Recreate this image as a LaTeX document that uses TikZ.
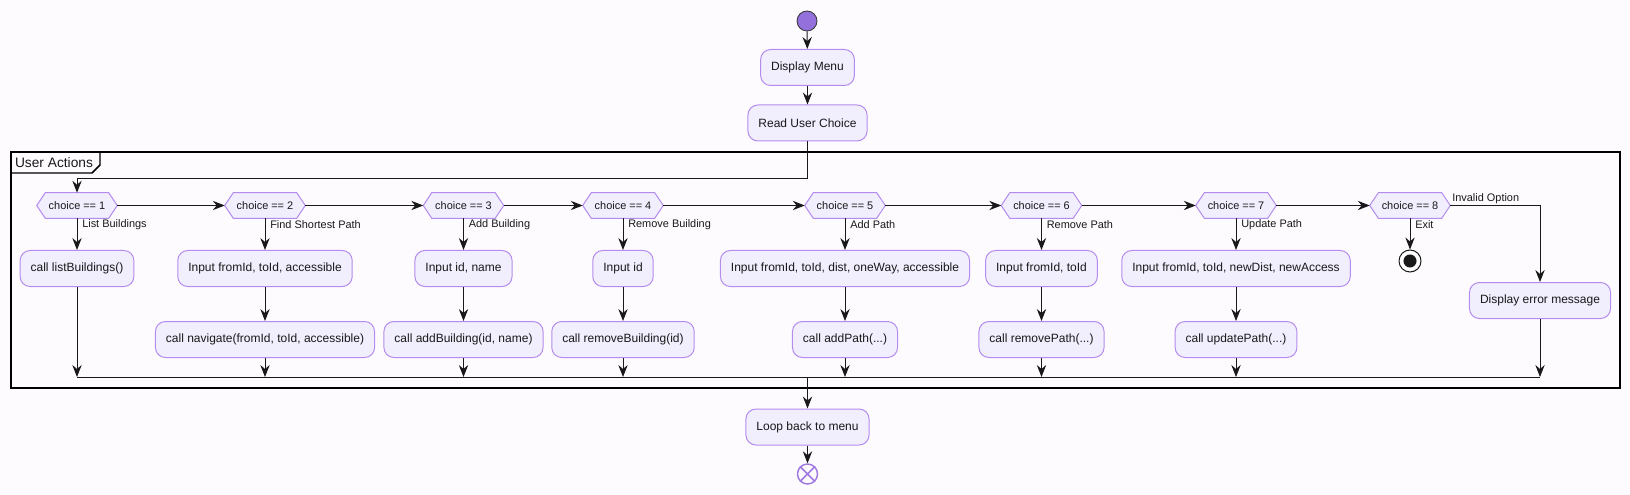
\documentclass[tikz,border=0pt]{standalone}
\usepackage{fontspec}
\setmainfont{Liberation Sans}
\usetikzlibrary{arrows.meta,calc}
\definecolor{bgc}{RGB}{254,251,254}
\definecolor{boxfill}{RGB}{241,238,253}
\definecolor{boxline}{RGB}{180,140,238}
\definecolor{startc}{RGB}{147,112,219}
\definecolor{endc}{RGB}{160,122,224}
\definecolor{txt}{RGB}{25,25,25}
\pgfdeclarelayer{bg}
\pgfdeclarelayer{hex}
\pgfsetlayers{bg,hex,main}
\begin{document}
\begin{tikzpicture}[x=0.75pt,y=-0.75pt,
  >={Stealth[length=9pt,width=7pt,inset=3pt]},
  act/.style={draw=boxline, fill=boxfill, line width=0.75pt, rounded corners=7.5pt,
    minimum height=27pt, inner xsep=7.9pt, inner ysep=0pt,
    font=\fontsize{9}{11}\selectfont, text=txt},
  dec/.style={minimum width=60pt, minimum height=18.75pt, inner sep=0pt,
    font=\fontsize{8.2}{10}\selectfont, text=txt},
  hexline/.style={draw=boxline, fill=boxfill, line width=0.75pt},
  lbl/.style={font=\fontsize{8.2}{10}\selectfont, text=txt, inner sep=0pt, anchor=west},
  flow/.style={->, draw=txt, line width=0.7pt},
  plain/.style={draw=txt, line width=0.7pt},
  startdot/.style={circle, fill=startc, draw=black!80, line width=0.6pt, minimum size=15pt, inner sep=0pt},
  endx/.style={circle, fill=bgc, draw=endc, line width=1.1pt, minimum size=15pt, inner sep=0pt},
  finaldot/.style={circle, fill=white, draw=txt, line width=0.75pt, minimum size=16.5pt, inner sep=0pt}]

\begin{pgfonlayer}{bg}
\fill[bgc] (0,0) rectangle (1630,495);
\end{pgfonlayer}
\useasboundingbox (0,0) rectangle (1630,495);

% frame
\draw[line width=1.1pt, draw=black] (11,152) rectangle (1620,388);
\draw[line width=1.1pt, draw=black] (11,173) -- (92,173) -- (100,165) -- (100,152);
\node[font=\fontsize{10.3}{12}\selectfont, text=txt, inner sep=0pt] (ua) at (54,163) {User Actions};

% main column
\node[startdot] (start) at (807,21) {};
\node[act] (menu) at (807.5,67.5) {Display Menu};
\node[act] (read) at (807.5,123) {Read User Choice};
\coordinate (split) at (807.5,178);
\coordinate (mrg) at (807.5,377);
\node[act] (loop) at (807.5,427) {Loop back to menu};
\node[endx] (endn) at (807.5,474) {};
\draw[draw=endc, line width=1.1pt] (endn.north west) -- (endn.south east) (endn.north east) -- (endn.south west);

% decisions
\foreach \i/\x in {1/77,2/265,3/463.5,4/623,5/845,6/1041.5,7/1236,8/1410}
  \node[dec] (d\i) at (\x,205.5) {choice == \i};
\begin{pgfonlayer}{hex}
\foreach \i in {1,...,8}
  \draw[hexline] (d\i.west) -- ([xshift=6.4pt]d\i.north west) -- ([xshift=-6.4pt]d\i.north east)
    -- (d\i.east) -- ([xshift=-6.4pt]d\i.south east) -- ([xshift=6.4pt]d\i.south west) -- cycle;
\end{pgfonlayer}

% first row
\node[act] (a1) at (77,268.5) {call listBuildings()};
\node[act] (a2) at (265,268.5) {Input fromId, toId, accessible};
\node[act] (a3) at (463.5,268.5) {Input id, name};
\node[act] (a4) at (623,268.5) {Input id};
\node[act] (a5) at (845,268.5) {Input fromId, toId, dist, oneWay, accessible};
\node[act] (a6) at (1041.5,268.5) {Input fromId, toId};
\node[act] (a7) at (1236,268.5) {Input fromId, toId, newDist, newAccess};
\node[finaldot] (exitn) at (1410,261) {};
\fill[txt] (exitn.center) circle (4.9pt);
\node[act] (err) at (1540,300.5) {Display error message};

% second row
\node[act] (b2) at (265,339.5) {call navigate(fromId, toId, accessible)};
\node[act] (b3) at (463.5,339.5) {call addBuilding(id, name)};
\node[act] (b4) at (623,339.5) {call removeBuilding(id)};
\node[act] (b5) at (845,339.5) {call addPath(...)};
\node[act] (b6) at (1041.5,339.5) {call removePath(...)};
\node[act] (b7) at (1236,339.5) {call updatePath(...)};

% labels
\node[lbl] (l1) at (82,225) {List Buildings};
\node[lbl] (l2) at (270,225) {Find Shortest Path};
\node[lbl] (l3) at (468.5,225) {Add Building};
\node[lbl] (l4) at (628,225) {Remove Building};
\node[lbl] (l5) at (850,225) {Add Path};
\node[lbl] (l6) at (1046.5,225) {Remove Path};
\node[lbl] (l7) at (1241,225) {Update Path};
\node[lbl] (l8) at (1415,225) {Exit};
\node[lbl] (l9) at (1452,199) {Invalid Option};

% connectors
\draw[flow] (start) -- (menu);
\draw[flow] (menu) -- (read);
\draw[plain] (read) -- (split);
\draw[flow] (split) -| (d1.north);
\draw[flow] (d1.east) -- (d2.west);
\draw[flow] (d2.east) -- (d3.west);
\draw[flow] (d3.east) -- (d4.west);
\draw[flow] (d4.east) -- (d5.west);
\draw[flow] (d5.east) -- (d6.west);
\draw[flow] (d6.east) -- (d7.west);
\draw[flow] (d7.east) -- (d8.west);
\foreach \i in {1,...,7} \draw[flow] (d\i.south) -- (a\i.north);
\foreach \i in {2,...,7} \draw[flow] (a\i) -- (b\i);
\draw[flow] (a1.south) -- (a1.south |- mrg);
\foreach \i in {2,...,7} \draw[flow] (b\i.south) -- (b\i.south |- mrg);
\draw[flow] (d8.south) -- (exitn.north);
\draw[flow] (d8.east) -| (err.north);
\draw[flow] (err.south) -- (err.south |- mrg);
\draw[plain] (a1.south |- mrg) -- (err.south |- mrg);
\draw[flow] (mrg) -- (loop);
\draw[flow] (loop) -- (endn);
\end{tikzpicture}
\end{document}
